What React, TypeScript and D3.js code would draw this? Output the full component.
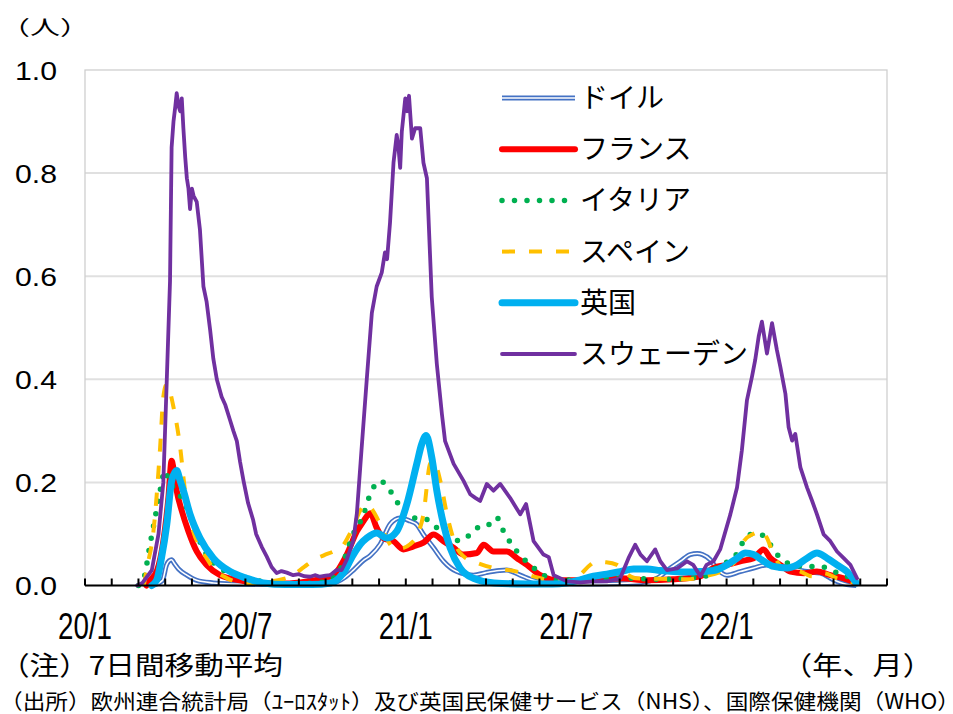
import React from "react";
import * as d3 from "d3";

// month index: 0 = 2020/1/1
const germany: [number, number][] = [[2.5,0],[2.9,0.01],[3.05,0.04],[3.15,0.048],[3.24,0.05],[3.35,0.042],[3.5,0.032],[3.81,0.02],[4.18,0.01],[4.8,0.005],[5.5,0.003],[7,0.002],[8.5,0.002],[9.3,0.005],[9.7,0.015],[10.04,0.03],[10.4,0.048],[10.67,0.058],[11.04,0.08],[11.41,0.119],[11.6,0.128],[11.79,0.131],[12.16,0.125],[12.4,0.119],[12.66,0.099],[13.04,0.073],[13.41,0.047],[13.91,0.027],[14.53,0.02],[15.0,0.025],[15.5,0.029],[15.78,0.03],[16.28,0.02],[16.78,0.01],[17.3,0.005],[18.5,0.003],[20.0,0.004],[20.8,0.006],[21.4,0.014],[21.9,0.034],[22.27,0.047],[22.64,0.06],[22.9,0.062],[23.1,0.06],[23.39,0.05],[23.6,0.035],[24.01,0.02],[24.51,0.027],[25.01,0.034],[25.51,0.04],[26.01,0.034],[26.51,0.032],[27.01,0.027],[27.51,0.024],[28.0,0.011],[28.5,0.002],[28.85,0.0]];

const france: [number, number][] = [[2.3,0],[2.43,0.01],[2.7,0.03],[2.93,0.086],[3.12,0.17],[3.24,0.242],[3.3,0.23],[3.43,0.184],[3.62,0.145],[3.87,0.105],[4.18,0.066],[4.55,0.04],[5.05,0.02],[5.8,0.01],[6.5,0.005],[7.5,0.004],[8.3,0.008],[9.0,0.015],[9.29,0.02],[9.79,0.06],[10.17,0.105],[10.42,0.125],[10.6,0.138],[10.67,0.14],[10.91,0.112],[11.16,0.092],[11.54,0.086],[11.91,0.07],[12.29,0.076],[12.66,0.083],[13.04,0.099],[13.41,0.086],[13.79,0.073],[14.16,0.06],[14.66,0.063],[14.91,0.079],[15.28,0.066],[15.78,0.066],[16.16,0.053],[16.53,0.04],[17.03,0.02],[17.65,0.01],[18.5,0.01],[19.5,0.012],[20.02,0.014],[21,0.01],[22,0.012],[23.02,0.018],[23.51,0.034],[24.01,0.04],[24.51,0.047],[25.01,0.053],[25.38,0.07],[25.64,0.053],[26.01,0.04],[26.39,0.027],[26.9,0.024],[27.38,0.027],[27.88,0.02],[28.38,0.014],[28.85,0.005]];

const italy: [number, number][] = [[2.0,0],[2.18,0.01],[2.43,0.079],[2.62,0.131],[2.81,0.184],[2.99,0.223],[3.15,0.2],[3.31,0.19],[3.68,0.164],[4.05,0.119],[4.3,0.085],[4.55,0.06],[5.05,0.034],[5.68,0.02],[6.43,0.01],[7.2,0.004],[8.0,0.004],[8.8,0.006],[9.4,0.02],[9.7,0.05],[9.92,0.086],[10.42,0.138],[10.67,0.177],[11.04,0.203],[11.41,0.184],[11.6,0.17],[11.79,0.151],[12.16,0.131],[12.54,0.131],[12.91,0.125],[13.29,0.105],[13.66,0.095],[14.03,0.086],[14.53,0.105],[14.91,0.119],[15.2,0.118],[15.41,0.131],[15.66,0.105],[16.16,0.066],[16.66,0.04],[17.15,0.02],[17.78,0.01],[18.5,0.012],[19.5,0.014],[20.5,0.014],[21.5,0.012],[22.5,0.014],[23.2,0.018],[23.76,0.04],[24.26,0.053],[24.64,0.086],[24.89,0.099],[25.26,0.099],[25.64,0.079],[26.01,0.053],[26.5,0.04],[27.01,0.037],[27.51,0.037],[28.0,0.027],[28.5,0.018],[28.85,0.005]];

const spain: [number, number][] = [[2.2,0],[2.3,0.03],[2.56,0.105],[2.81,0.268],[2.93,0.366],[3.05,0.39],[3.12,0.385],[3.31,0.346],[3.56,0.268],[3.74,0.184],[4.05,0.105],[4.3,0.075],[4.55,0.053],[4.85,0.03],[5.18,0.018],[5.6,0.008],[6.2,0.004],[6.8,0.006],[7.17,0.01],[7.67,0.017],[8.2,0.036],[8.57,0.05],[8.95,0.059],[9.29,0.066],[9.67,0.079],[9.85,0.095],[10.04,0.114],[10.29,0.145],[10.54,0.157],[10.7,0.15],[11.04,0.119],[11.3,0.09],[11.54,0.073],[11.8,0.072],[12.16,0.08],[12.45,0.1],[12.66,0.138],[12.91,0.236],[13.04,0.242],[13.29,0.203],[13.54,0.138],[13.91,0.073],[14.2,0.055],[14.53,0.047],[15.28,0.034],[16.16,0.027],[16.6,0.02],[17.03,0.014],[17.5,0.009],[18.0,0.008],[18.5,0.02],[18.9,0.04],[19.1,0.046],[19.5,0.045],[19.9,0.04],[20.2,0.025],[20.6,0.014],[21.5,0.013],[22.5,0.012],[23.2,0.018],[23.7,0.025],[24.0,0.033],[24.4,0.053],[24.64,0.086],[25.0,0.1],[25.32,0.105],[25.51,0.092],[25.76,0.06],[26.1,0.034],[26.76,0.027],[27.2,0.018],[27.63,0.024],[28.13,0.014],[28.8,0.005]];

const uk: [number, number][] = [[2.5,0],[2.68,0.01],[2.85,0.05],[3.06,0.119],[3.24,0.203],[3.43,0.223],[3.55,0.205],[3.68,0.184],[3.93,0.138],[4.3,0.092],[4.8,0.053],[5.43,0.027],[6.05,0.014],[6.67,0.005],[7.5,0.002],[8.5,0.002],[9.2,0.005],[9.67,0.025],[10.04,0.06],[10.3,0.08],[10.54,0.092],[10.91,0.102],[11.29,0.092],[11.66,0.105],[12.04,0.158],[12.41,0.236],[12.6,0.275],[12.76,0.291],[12.97,0.249],[13.16,0.184],[13.41,0.119],[13.66,0.073],[14.03,0.034],[14.53,0.014],[15.3,0.005],[16.5,0.003],[17.5,0.003],[18.0,0.005],[18.53,0.011],[19.02,0.018],[19.52,0.022],[20.02,0.027],[20.52,0.032],[21.02,0.032],[21.52,0.029],[22.02,0.027],[22.52,0.026],[23.02,0.027],[23.51,0.029],[24.01,0.04],[24.39,0.053],[24.7,0.063],[25.01,0.06],[25.39,0.047],[25.76,0.037],[26.26,0.034],[26.64,0.04],[27.01,0.053],[27.38,0.063],[27.76,0.053],[28.13,0.04],[28.5,0.027],[28.85,0.005]];

const sweden: [number, number][] = [[1.95,0],[2.15,0.005],[2.5,0.03],[2.75,0.1],[2.93,0.2],[3.06,0.4],[3.18,0.59],[3.24,0.85],[3.31,0.9],[3.38,0.93],[3.43,0.955],[3.5,0.93],[3.56,0.92],[3.62,0.945],[3.68,0.887],[3.75,0.83],[3.81,0.79],[3.87,0.77],[3.93,0.73],[4.0,0.77],[4.06,0.756],[4.18,0.744],[4.3,0.69],[4.43,0.58],[4.55,0.55],[4.68,0.496],[4.8,0.44],[4.93,0.4],[5.11,0.366],[5.25,0.35],[5.43,0.32],[5.55,0.3],[5.68,0.28],[5.8,0.24],[5.93,0.203],[6.1,0.16],[6.29,0.127],[6.4,0.1],[6.61,0.075],[6.8,0.056],[6.98,0.036],[7.17,0.024],[7.35,0.028],[7.55,0.025],[7.79,0.02],[8.0,0.022],[8.2,0.018],[8.42,0.017],[8.6,0.02],[8.79,0.017],[9.0,0.019],[9.17,0.02],[9.41,0.03],[9.6,0.03],[9.79,0.05],[10.04,0.088],[10.17,0.14],[10.35,0.268],[10.54,0.4],[10.73,0.529],[10.91,0.58],[11.1,0.607],[11.22,0.646],[11.3,0.633],[11.41,0.704],[11.54,0.82],[11.66,0.874],[11.72,0.854],[11.79,0.81],[11.85,0.88],[11.98,0.945],[12.05,0.92],[12.12,0.95],[12.23,0.867],[12.35,0.887],[12.54,0.887],[12.66,0.82],[12.79,0.79],[12.97,0.56],[13.16,0.43],[13.35,0.333],[13.47,0.28],[13.79,0.236],[14.16,0.203],[14.41,0.177],[14.6,0.17],[14.78,0.164],[15.03,0.197],[15.28,0.184],[15.53,0.197],[15.9,0.17],[16.28,0.138],[16.5,0.158],[16.78,0.086],[17.15,0.06],[17.35,0.055],[17.53,0.02],[18.03,0.008],[18.53,0.006],[19.02,0.008],[19.52,0.008],[20.02,0.014],[20.33,0.053],[20.58,0.079],[20.78,0.06],[21.02,0.047],[21.33,0.07],[21.52,0.047],[21.77,0.03],[22.15,0.033],[22.52,0.047],[22.75,0.04],[23.02,0.018],[23.25,0.04],[23.51,0.047],[23.76,0.07],[24.14,0.138],[24.39,0.19],[24.57,0.262],[24.76,0.359],[24.95,0.405],[25.07,0.4375],[25.2,0.483],[25.32,0.512],[25.51,0.45],[25.7,0.509],[25.88,0.457],[26.01,0.424],[26.2,0.372],[26.32,0.307],[26.45,0.281],[26.57,0.294],[26.76,0.229],[27.01,0.19],[27.2,0.164],[27.38,0.138],[27.63,0.099],[27.88,0.086],[28.13,0.066],[28.38,0.053],[28.63,0.04],[28.88,0.014]];

const seriesNames = ["ドイル", "フランス", "イタリア", "スペイン", "英国", "スウェーデン"];
const yTicks = [0, 0.2, 0.4, 0.6, 0.8, 1.0];
const xTickMonths = [0, 6, 12, 18, 24];
const xTickLabels = ["20/1", "20/7", "21/1", "21/7", "22/1"];
const monthTicks = d3.range(0, 31);

const W = 953, H = 714;
const plot = { left: 85, right: 887, top: 70, bottom: 585.5 };

const CJK = "'Noto Sans CJK JP', 'Noto Sans', sans-serif";
const LAT = "'Liberation Sans', Arial, sans-serif";
const NARROW = "'Liberation Sans Narrow', 'Arial Narrow', 'Liberation Sans', Arial, sans-serif";

export default function App() {
  const x = d3.scaleLinear().domain([0, 30]).range([plot.left, plot.right]);
  const y = d3.scaleLinear().domain([0, 1]).range([plot.bottom, plot.top]);
  const smooth = d3.line<[number, number]>().x(d => x(d[0])).y(d => y(d[1])).curve(d3.curveMonotoneX);
  const jag = d3.line<[number, number]>().x(d => x(d[0])).y(d => y(d[1])).curve(d3.curveLinear);

  const styles = [
    { data: germany, gen: smooth, color: "#4472C4", w: 5, dash: undefined as string | undefined, cap: "butt", double: true },
    { data: france, gen: smooth, color: "#FF0000", w: 6, dash: undefined, cap: "round", double: false },
    { data: italy, gen: smooth, color: "#00B050", w: 5.5, dash: "0 12.5", cap: "round", double: false },
    { data: spain, gen: smooth, color: "#FFC000", w: 4, dash: "13 14", cap: "butt", double: false },
    { data: uk, gen: smooth, color: "#00B0F0", w: 7, dash: undefined, cap: "round", double: false },
    { data: sweden, gen: jag, color: "#7030A0", w: 3.8, dash: undefined, cap: "round", double: false },
  ];

  const legendX1 = 502, legendX2 = 575, legendY0 = 98, legendDy = 51.2;

  return (
    <svg width={W} height={H} style={{ position: "absolute", left: 0, top: 0, background: "#fff" }}>
      <rect x={0} y={0} width={W} height={H} fill="#fff" />
      {/* gridlines */}
      {yTicks.filter(t => t > 0 && t < 1).map(t => (
        <line key={t} x1={plot.left} x2={plot.right} y1={y(t)} y2={y(t)} stroke="#E0E0E0" strokeWidth={2} />
      ))}
      <rect x={plot.left} y={plot.top} width={plot.right - plot.left} height={plot.bottom - plot.top} fill="none" stroke="#CFCFCF" strokeWidth={1.3} />
      {/* y labels */}
      {yTicks.map(t => (
        <text key={t} x={57} y={y(t) + 9.5} textAnchor="end" fontFamily={LAT} fontSize={25.5} fill="#000"
          textLength={42} lengthAdjust="spacingAndGlyphs">{d3.format(".1f")(t)}</text>
      ))}
      {/* series */}
      {styles.map((s, i) => (
        <g key={i}>
          <path d={s.gen(s.data) || ""} fill="none" stroke={s.color} strokeWidth={s.w}
            strokeDasharray={s.dash} strokeLinecap={s.cap as any} strokeLinejoin="round" />
          {s.double && <path d={s.gen(s.data) || ""} fill="none" stroke="#fff" strokeWidth={1.6} strokeLinejoin="round" />}
        </g>
      ))}
      {/* x axis */}
      <line x1={plot.left} x2={plot.right} y1={plot.bottom} y2={plot.bottom} stroke="#000" strokeWidth={2} />
      {monthTicks.map(m => (
        <line key={m} x1={x(m)} x2={x(m)} y1={plot.bottom} y2={plot.bottom - 7} stroke="#000" strokeWidth={2} />
      ))}
      {xTickMonths.map((m, i) => (
        <text key={m} x={x(m)} y={639} textAnchor="middle" fontFamily={NARROW} fontSize={36} fill="#000"
          textLength={54} lengthAdjust="spacingAndGlyphs">{xTickLabels[i]}</text>
      ))}
      {/* legend */}
      {styles.map((s, i) => {
        const ly = legendY0 + i * legendDy;
        return (
          <g key={"lg" + i}>
            <line x1={legendX1} x2={legendX2} y1={ly} y2={ly} stroke={s.color} strokeWidth={s.w}
              strokeDasharray={s.dash} strokeLinecap={s.cap as any} />
            {s.double && <line x1={legendX1} x2={legendX2} y1={ly} y2={ly} stroke="#fff" strokeWidth={1.6} />}
            <text x={580} y={ly + 10} fontFamily={CJK} fontSize={28} fill="#000">{seriesNames[i]}</text>
          </g>
        );
      })}
      {/* texts */}
      <text x={0} y={35} fontFamily={CJK} fontSize={20} fill="#000" textLength={90} lengthAdjust="spacingAndGlyphs">（人）</text>
      <text x={0} y={675} fontFamily={CJK} fontSize={26} fill="#000" textLength={283} lengthAdjust="spacingAndGlyphs">（注）7日間移動平均</text>
      <text x={782} y={675} fontFamily={CJK} fontSize={26} fill="#000" textLength={151} lengthAdjust="spacingAndGlyphs">（年、月）</text>
      <text x={0} y={709} fontFamily={CJK} fontSize={21} fill="#000" textLength={960} lengthAdjust="spacingAndGlyphs">（出所）欧州連合統計局（ﾕｰﾛｽﾀｯﾄ）及び英国民保健サービス（NHS）、国際保健機関（WHO）</text>
    </svg>
  );
}
